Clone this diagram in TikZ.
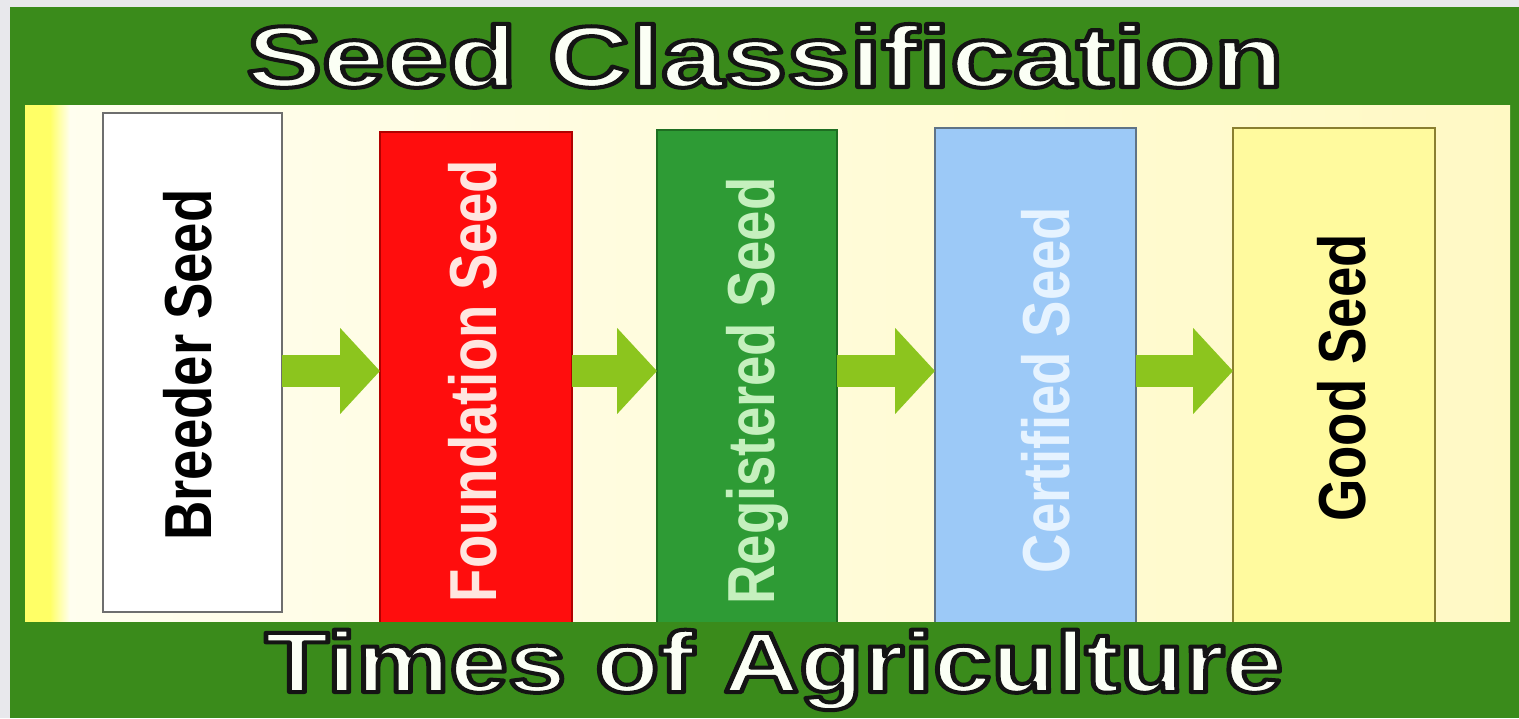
\documentclass[tikz,border=0pt]{standalone}
\usepackage{fontspec}
\setmainfont{Liberation Sans}
\usepackage{graphicx}
\usetikzlibrary{arrows.meta}
\definecolor{marginc}{HTML}{E8E8EC}
\definecolor{bggreen}{HTML}{3A8B1B}
\definecolor{panelL}{HTML}{FFFEF0}
\definecolor{panelR}{HTML}{FFF9C4}
\definecolor{stripY}{HTML}{FFFF66}
\definecolor{boxgray}{HTML}{6E6E6E}
\definecolor{fred}{HTML}{FF0D0D}
\definecolor{fredb}{HTML}{B00000}
\definecolor{rgreen}{HTML}{2E9B35}
\definecolor{rgreenb}{HTML}{1E6E22}
\definecolor{cblue}{HTML}{9CC9F7}
\definecolor{cblueb}{HTML}{5F7386}
\definecolor{gyellow}{HTML}{FFFA9E}
\definecolor{gyellowb}{HTML}{8A7F30}
\definecolor{arrowgreen}{HTML}{8CC51E}
\definecolor{titlewhite}{HTML}{FBFFF5}
\definecolor{ftext}{HTML}{FFE6E0}
\definecolor{rtext}{HTML}{C5F0BE}
\definecolor{ctext}{HTML}{E6F3FF}
% outlined text: fill + stroke render mode
\newcommand\outlined[1]{{\special{pdf:literal direct 2 Tr 4 w 1 j 0.08 0.08 0.08 RG}#1\special{pdf:literal direct 0 Tr}}}
\tikzset{
  stage/.style={rectangle, inner sep=0pt, outer sep=0pt, line width=2pt, anchor=north west},
  stagetext/.style={font=\fontsize{54.5}{60}\selectfont\bfseries, inner sep=0pt},
  titletext/.style={text=titlewhite, inner sep=0pt, anchor=base},
  flow/.style={draw=arrowgreen, line width=32pt, -{Triangle[length=40pt 0, width=84pt 0]}}
}
\begin{document}
\begin{tikzpicture}[x=1pt,y=-1pt]
\useasboundingbox (0,0) rectangle (1519,718);
\fill[marginc] (0,0) rectangle (1519,718);
\fill[bggreen] (10,7) rectangle (1519,718);
% panel
\shade[left color=panelL, right color=panelR] (25,105) rectangle (1510,622);
\fill[stripY] (25,105) rectangle (50,622);
\shade[left color=stripY, right color=panelL] (50,105) rectangle (70,622);
% stages
\node[stage, fill=white, draw=boxgray, minimum width=179, minimum height=499] (breeder) at (103,113) {};
\node[stage, fill=fred, draw=fredb, minimum width=192, minimum height=492] (foundation) at (380,132) {};
\node[stage, fill=rgreen, draw=rgreenb, minimum width=180, minimum height=494] (registered) at (657,130) {};
\node[stage, fill=cblue, draw=cblueb, minimum width=201, minimum height=496] (certified) at (935,128) {};
\node[stage, fill=gyellow, draw=gyellowb, minimum width=202, minimum height=496] (good) at (1233,128) {};
% bottom band
\fill[bggreen] (10,622) rectangle (1519,718);
% stage texts
\node[stagetext, text=black] (tbreeder) at (188,365) {\scalebox{1.22}[1]{\rotatebox{90}{Breeder Seed}}};
\node[stagetext, text=ftext] (tfoundation) at (473,381) {\scalebox{1.22}[1]{\rotatebox{90}{Foundation Seed}}};
\node[stagetext, text=rtext] (tregistered) at (757,391) {\scalebox{1.22}[1]{\rotatebox{90}{Registered Seed}}};
\node[stagetext, text=ctext] (tcertified) at (1046,390) {\scalebox{1.22}[1]{\rotatebox{90}{Certified Seed}}};
\node[stagetext, text=black] (tgood) at (1342,378) {\scalebox{1.22}[1]{\rotatebox{90}{Good Seed}}};
% arrows
\coordinate (ay) at (0,371);
\draw[flow] (breeder.east |- ay) -- (foundation.west |- ay);
\draw[flow] (foundation.east |- ay) -- (registered.west |- ay);
\draw[flow] (registered.east |- ay) -- (certified.west |- ay);
\draw[flow] (certified.east |- ay) -- (good.west |- ay);
% titles
\node[titletext] (title) at (765,87) {\scalebox{1.3}[1]{\fontsize{87}{90}\selectfont\bfseries\outlined{Seed Classification}}};
\node[titletext] (footer) at (774,692) {\scalebox{1.22}[1]{\fontsize{86}{90}\selectfont\bfseries\outlined{Times of Agriculture}}};
\end{tikzpicture}
\end{document}
